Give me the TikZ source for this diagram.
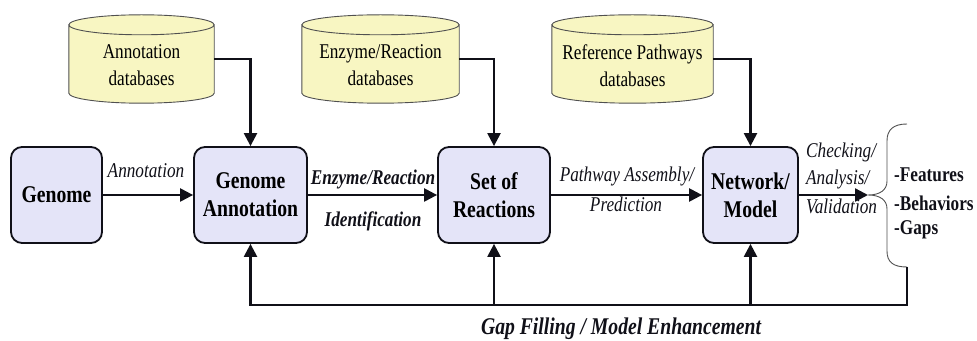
\documentclass[tikz,border=0pt]{standalone}
\usepackage{fontspec}
\setmainfont{Liberation Serif}[FakeStretch=0.82]
\usetikzlibrary{arrows.meta,calc}
\definecolor{boxfill}{HTML}{E4E4F8}
\definecolor{dbfill}{HTML}{F8F6C2}
\definecolor{dbedge}{HTML}{505050}
\definecolor{ink}{HTML}{101018}

% database cylinder drawn around an (empty) body node
\newcommand\dbshape[1]{%
  \draw[draw=dbedge, line width=0.9pt, fill=dbfill]
    let \p1=($(#1.east)-(#1.west)$) in
    (#1.north west) -- (#1.south west)
    arc[start angle=180, end angle=360, x radius=0.5*\x1, y radius=10pt]
    -- (#1.north east)
    arc[start angle=0, end angle=180, x radius=0.5*\x1, y radius=10pt] -- cycle
    (#1.north) ellipse[x radius=0.5*\x1, y radius=10pt];
}

\begin{document}
\begin{tikzpicture}[x=1pt,y=1pt,
  stage/.style={draw=ink, line width=1.8pt, fill=boxfill, rounded corners=11pt,
    minimum height=96pt, align=center, inner sep=0pt,
    font=\fontsize{24}{28}\selectfont\bfseries},
  dbbody/.style={minimum height=68pt, inner sep=0pt},
  dblabel/.style={align=center, inner sep=0pt, font=\fontsize{21}{27}\selectfont},
  flow/.style={draw=ink, line width=2.3pt, -{Triangle[length=13pt,width=13pt]}},
  lab/.style={text=ink, inner sep=0pt, font=\fontsize{21}{27}\selectfont\itshape},
  blab/.style={text=ink, inner sep=0pt, font=\fontsize{21}{27}\selectfont\bfseries\itshape},
  item/.style={text=ink, inner sep=0pt, anchor=west, font=\fontsize{21}{27}\selectfont\bfseries},
  ]
\useasboundingbox (0,0) rectangle (977,340);

% main stages
\node[stage, minimum width=91pt]  (gen) at (56.5,145) {Genome};
\node[stage, minimum width=113pt] (ga)  at (250.5,145) {Genome\\Annotation};
\node[stage, minimum width=112pt] (sr)  at (494,145) {Set of\\Reactions};
\node[stage, minimum width=95pt]  (nm)  at (750.5,145) {Network/\\Model};

% databases
\node[dbbody, minimum width=145pt] (adb) at (141.5,281) {};
\node[dbbody, minimum width=157pt] (edb) at (380.5,281) {};
\node[dbbody, minimum width=161pt] (rdb) at (632.5,281) {};
\dbshape{adb}
\dbshape{edb}
\dbshape{rdb}
\node[dblabel] (adbt) at (141.5,274.5) {Annotation\\databases};
\node[dblabel] (edbt) at (380.5,274.5) {Enzyme/Reaction\\databases};
\node[dblabel] (rdbt) at (632.5,274.5) {Reference Pathways\\databases};

% database inputs
\draw[flow] (adb.east) -| (ga.north);
\draw[flow] (edb.east) -| (sr.north);
\draw[flow] (rdb.east) -| (nm.north);

% brace of outcomes
\coordinate (bt) at (868,145);
\coordinate (fb0) at (907,73);
\coordinate (fb1) at (907,35);
\draw[draw=dbedge, line width=0.9pt]
  (907,216) .. controls (893,216) and (887,210) .. (887,199)
  -- (887,159) .. controls (887,150) and (880,145) .. (bt)
  .. controls (880,145) and (887,140) .. (887,131)
  -- (887,89) .. controls (887,78) and (893,73) .. (fb0);

% main flow
\draw[flow] (gen.east) -- (ga.west);
\draw[flow] (ga.east) -- (sr.west);
\draw[flow] (sr.east) -- (nm.west);
\draw[flow] (nm.east) -- (bt);

% feedback loop
\draw[flow] (fb0) -- (fb1) -| (ga.south);
\draw[flow] (sr.south |- fb1) -- (sr.south);
\draw[flow] (nm.south |- fb1) -- (nm.south);

% edge labels
\node[lab]  (tann) at (146,169) {Annotation};
\node[blab] (tenz) at (373,161) {Enzyme/Reaction};
\node[blab] (tid)  at (373,119) {Identification};
\node[lab]  (tpa)  at (627,164) {Pathway Assembly/};
\node[lab]  (tpr)  at (626,136) {Prediction};
\node[lab, anchor=west] (tchk) at (806,188) {Checking/};
\node[lab, anchor=west] (tana) at (806,161) {Analysis/};
\node[lab, anchor=west] (tval) at (806,134) {Validation};

% outcomes
\node[item] (ifeat) at (894,165) {-Features};
\node[item] (ibeh)  at (894,137) {-Behaviors};
\node[item] (igap)  at (894,110) {-Gaps};

\node[blab, font=\fontsize{24}{28}\selectfont\bfseries\itshape] (tgap) at (621,11)
  {Gap Filling / Model Enhancement};
\end{tikzpicture}
\end{document}
